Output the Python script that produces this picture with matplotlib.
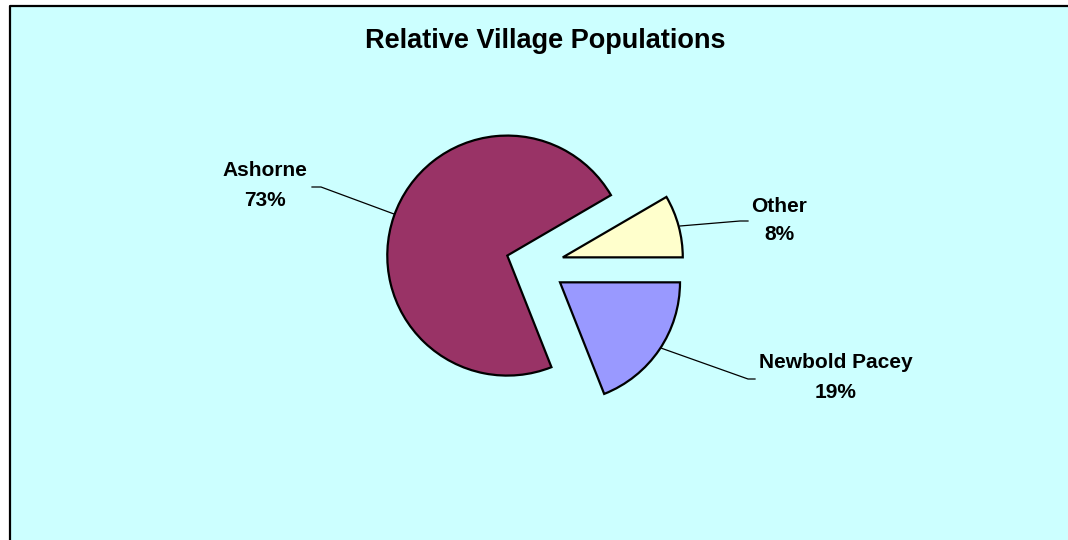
import matplotlib
matplotlib.use("Agg")
import matplotlib.pyplot as plt
from matplotlib.patches import Rectangle

# ---- data ----
categories = ["Ashorne", "Newbold Pacey", "Other"]
shares = [72.6, 19.0, 8.4]
colors = ["#993366", "#9999FF", "#FFFFCC"]
explode_frac = [0.24, 0.257, 0.244]
title = "Relative Village Populations"

W, H = 1068, 540
R = 120
fig = plt.figure(figsize=(W / 100, H / 100), dpi=100)
fig.patch.set_facecolor("white")
ax = fig.add_axes([0, 0, 1, 1])

# chart area background with left/top border
bg = Rectangle((9.5, -5), W, H - 5.7 + 5, facecolor="#CCFFFF", edgecolor="none", zorder=0)
ax.add_patch(bg)
ax.plot([9.5, 9.5, W + 5], [-5, H - 5.7, H - 5.7], color="black", lw=1.6, zorder=1,
        solid_capstyle="butt")

total = sum(shares)
start = 360.0 * shares[2] / total
wedges, _ = ax.pie(shares, explode=[e * R for e in explode_frac], colors=colors,
                   startangle=start, counterclock=True, center=(534.5, H - 265),
                   radius=R, frame=True,
                   wedgeprops=dict(edgecolor="black", linewidth=1.6))
ax.set_xlim(0, W)
ax.set_ylim(0, H)
ax.set_aspect("equal")
ax.axis("off")

font = dict(family=["Liberation Sans", "DejaVu Sans"], fontweight="bold")
ax.text(545.5, H - 41, title, ha="center", va="center", fontsize=19.5, **font)

pcts = [f"{round(100 * s / total)}%" for s in shares]
label_pos = [(265, 171, 201), (836, 362, 392), (779, 206, 234)]
for name, pct, (x, y1, y2) in zip(categories, pcts, label_pos):
    ax.text(x, H - y1, name, ha="center", va="center", fontsize=15, **font)
    ax.text(x, H - y2, pct, ha="center", va="center", fontsize=15, **font)

# leader lines
leaders = [
    [(312, 187), (321, 187), (394, 214)],
    [(658, 347), (748, 379), (755, 379)],
    [(680, 226), (740, 221), (748, 221)],
]
for pts in leaders:
    xs = [p[0] for p in pts]
    ys = [H - p[1] for p in pts]
    ax.plot(xs, ys, color="black", lw=0.9, zorder=0.5)

fig.savefig("out.png", dpi=100)
